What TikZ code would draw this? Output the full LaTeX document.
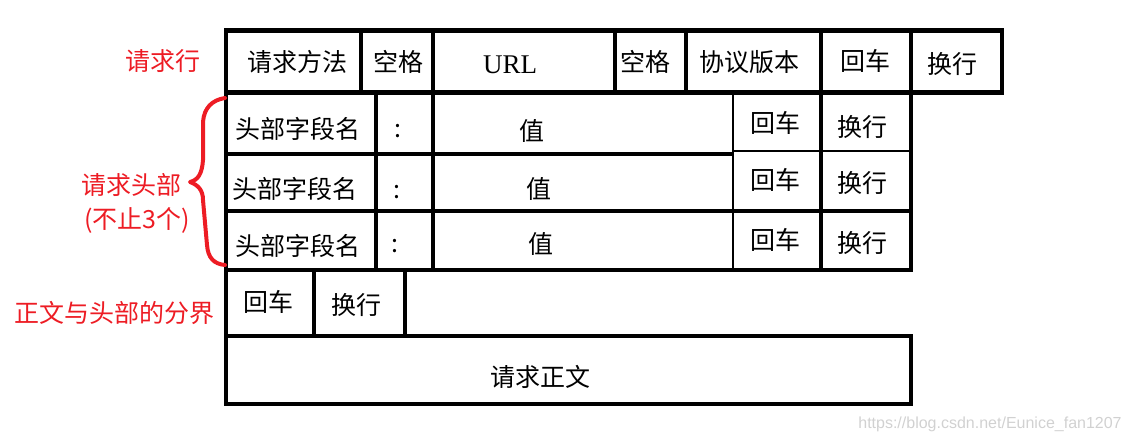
\documentclass[tikz,border=0pt]{standalone}
\usepackage{fontspec}
\setmainfont{Liberation Serif}
\newfontfamily\cjk{Noto Sans CJK SC}
\newfontfamily\marcadagua{Liberation Sans}
\usepackage{xcolor}
\usepackage{tikz}
\usetikzlibrary{positioning}
\definecolor{vermelho}{RGB}{237,28,36}
\tikzset{
    borda/.style={line width=4.5pt},
    bordafina/.style={line width=1.6pt},
    celula/.style={
        inner sep=0pt,
        font=\fontsize{25}{25}\selectfont\cjk
    },
    rotulo/.style={celula, text=vermelho},
    chave/.style={draw=vermelho, line width=4pt, line cap=round, line join=round}
}

\begin{document}
\begin{tikzpicture}[x=1pt, y=-1pt]
        \useasboundingbox (0,0) rectangle (1124,441);

        % linha de requisicao
        \draw[borda] (226,30.5) rectangle (1002,92.5);
        \draw[borda] (361,30.5) -- (361,92.5) (433,30.5) -- (433,92.5)
            (615,30.5) -- (615,92.5) (686,30.5) -- (686,92.5)
            (821,30.5) -- (821,92.5) (911,30.5) -- (911,92.5);
        \node[celula] (metodo) at (297,62) {请求方法};
        \node[celula] (espaco1) at (398,62) {空格};
        \node[celula, font=\fontsize{27}{27}\selectfont] (url) at (510,65) {URL};
        \node[celula] (espaco2) at (645,62) {空格};
        \node[celula] (versao) at (749,62) {协议版本};
        \node[celula] (cr1) at (865,61) {回车};
        \node[celula] (lf1) at (952,64) {换行};

        % cabecalhos
        \draw[borda] (226,92.5) rectangle (911,270);
        \draw[borda] (376,92.5) -- (376,270) (433,92.5) -- (433,270)
            (821,92.5) -- (821,270);
        \draw[borda] (226,154) -- (733,154) (226,211) -- (911,211);
        \draw[bordafina] (733,92.5) -- (733,270) (733,151) -- (911,151);
        \node[celula] (campo1) at (298,129) {头部字段名};
        \node[celula] (sep1) at (398,131) {:};
        \node[celula] (valor1) at (532,131) {值};
        \node[celula] (cr2) at (775,123) {回车};
        \node[celula] (lf2) at (862,127) {换行};
        \node[celula] (campo2) at (295,189) {头部字段名};
        \node[celula] (sep2) at (397,192) {:};
        \node[celula] (valor2) at (539,189) {值};
        \node[celula] (cr3) at (775,180) {回车};
        \node[celula] (lf3) at (862,183) {换行};
        \node[celula] (campo3) at (298,246) {头部字段名};
        \node[celula] (sep3) at (395,246) {:};
        \node[celula] (valor3) at (541,244) {值};
        \node[celula] (cr4) at (775,240) {回车};
        \node[celula] (lf4) at (862,243) {换行};

        % linha em branco e corpo
        \draw[borda] (226,270) rectangle (405,336);
        \draw[borda] (314,270) -- (314,336);
        \node[celula] (cr5) at (268,302) {回车};
        \node[celula] (lf5) at (356,305) {换行};
        \draw[borda] (226,336) rectangle (911,404);
        \node[celula] (corpo) at (540,377) {请求正文};

        % rotulos
        \node[rotulo] (linha) at (163,61) {请求行};
        \node[rotulo] (cabecalho) at (131,185) {请求头部};
        \node[rotulo] (quantidade) at (137,220) {(不止3个)};
        \node[rotulo] (divisao) at (114,313) {正文与头部的分界};
        \draw[chave] (225,98) .. controls (212,100) and (204,108) .. (203,122)
            -- (203,160) .. controls (202,174) and (198,180) .. (190,182)
            .. controls (198,185) and (203,190) .. (203,200)
            -- (207,245) .. controls (208,258) and (214,264) .. (225,265);

        \node[font=\marcadagua\fontsize{16}{16}\selectfont, text=black!18] (site)
            at (990,424) {https://blog.csdn.net/Eunice\_fan1207};
    \end{tikzpicture}
\end{document}
